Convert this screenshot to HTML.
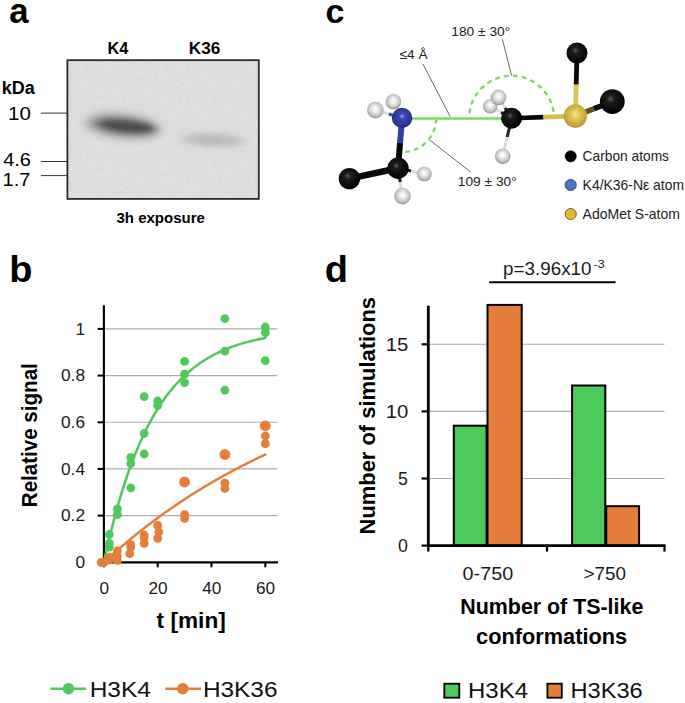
<!DOCTYPE html>
<html><head><meta charset="utf-8"><title>Figure</title>
<style>
html,body{margin:0;padding:0;background:#fff;}
body{width:685px;height:703px;overflow:hidden;}
svg{display:block;font-family:"Liberation Sans",sans-serif;}
.b{font-weight:bold;}
</style></head><body>
<svg width="685" height="703" viewBox="0 0 685 703">
<defs>
<filter id="bl1" x="-50%" y="-100%" width="200%" height="300%"><feGaussianBlur stdDeviation="6 4.2"/></filter>
<filter id="bl2" x="-50%" y="-100%" width="200%" height="300%"><feGaussianBlur stdDeviation="4.5 2.8"/></filter>
<filter id="bl3" x="-50%" y="-100%" width="200%" height="300%"><feGaussianBlur stdDeviation="6 3"/></filter>
<radialGradient id="gC" cx="0.45" cy="0.4" r="0.6" fx="0.42" fy="0.38">
<stop offset="0" stop-color="#5a5a5a"/><stop offset="0.25" stop-color="#1c1c1c"/><stop offset="1" stop-color="#000"/></radialGradient>
<radialGradient id="gN" cx="0.5" cy="0.45" r="0.6" fx="0.5" fy="0.42">
<stop offset="0" stop-color="#97a4ee"/><stop offset="0.22" stop-color="#3a4ab0"/><stop offset="0.75" stop-color="#27358f"/><stop offset="1" stop-color="#18225f"/></radialGradient>
<radialGradient id="gH" cx="0.5" cy="0.45" r="0.6" fx="0.5" fy="0.42">
<stop offset="0" stop-color="#ffffff"/><stop offset="0.3" stop-color="#ededed"/><stop offset="0.68" stop-color="#c2c2c2"/><stop offset="1" stop-color="#838383"/></radialGradient>
<radialGradient id="gS" cx="0.5" cy="0.45" r="0.6" fx="0.5" fy="0.42">
<stop offset="0" stop-color="#f5ea9a"/><stop offset="0.35" stop-color="#dcc550"/><stop offset="0.8" stop-color="#c0a53a"/><stop offset="1" stop-color="#8f7a22"/></radialGradient>
<filter id="noise" x="0" y="0" width="100%" height="100%"><feTurbulence type="fractalNoise" baseFrequency="0.22" numOctaves="2" seed="7" result="t"/><feColorMatrix type="matrix" values="0 0 0 0 0.45  0 0 0 0 0.45  0 0 0 0 0.45  0.9 0 0 0 -0.33"/></filter>
<clipPath id="gelclip"><rect x="67.4" y="60.2" width="191.4" height="138.7"/></clipPath>
</defs>
<rect width="685" height="703" fill="#fff"/>

<text class="b" x="9.3" y="22.6" font-size="34.7">a</text>
<text class="b" x="9.2" y="281.6" font-size="36.8" textLength="23.2" lengthAdjust="spacingAndGlyphs">b</text>
<text class="b" x="325.5" y="22.7" font-size="34">c</text>
<text class="b" x="324.8" y="282.3" font-size="36.8" textLength="23.2" lengthAdjust="spacingAndGlyphs">d</text>
<g id="panelA">
<rect x="67.4" y="60.2" width="191.4" height="138.7" fill="#dfdfdf"/>
<rect x="67.4" y="60.2" width="191.4" height="138.7" filter="url(#noise)" opacity="0.28"/>
<g clip-path="url(#gelclip)">
<ellipse cx="123" cy="126" rx="36" ry="11" fill="#303030" opacity="0.5" filter="url(#bl1)" transform="rotate(6 123 126)"/>
<ellipse cx="127" cy="126.5" rx="28" ry="6" fill="#1c1c1c" opacity="0.55" filter="url(#bl2)" transform="rotate(6 127 126.5)"/>
<ellipse cx="213" cy="140" rx="31" ry="6.5" fill="#555" opacity="0.25" filter="url(#bl3)" transform="rotate(3 213 140)"/>
</g>
<rect x="67.4" y="60.2" width="191.4" height="138.7" fill="none" stroke="#2a2a2a" stroke-width="1.8"/>
<text class="b" x="107.5" y="54.2" font-size="16.5" textLength="20.8" lengthAdjust="spacingAndGlyphs">K4</text>
<text class="b" x="188.8" y="54.2" font-size="16.5" textLength="31.5" lengthAdjust="spacingAndGlyphs">K36</text>
<text class="b" x="1.8" y="94.4" font-size="17.5" textLength="33" lengthAdjust="spacingAndGlyphs">kDa</text>
<text x="8.0" y="120.2" font-size="17.8" textLength="22.8" lengthAdjust="spacingAndGlyphs">10</text>
<text x="3.2" y="166" font-size="17.8" textLength="27.8" lengthAdjust="spacingAndGlyphs">4.6</text>
<text x="2.6" y="185.6" font-size="17.8" textLength="27.8" lengthAdjust="spacingAndGlyphs">1.7</text>
<line x1="40.9" y1="113.1" x2="67.4" y2="113.1" stroke="#333" stroke-width="1"/>
<line x1="40.9" y1="161.5" x2="67.4" y2="161.5" stroke="#333" stroke-width="1"/>
<line x1="40.9" y1="175.6" x2="67.4" y2="175.6" stroke="#333" stroke-width="1"/>
<text class="b" x="116.5" y="223.2" font-size="15">3h exposure</text>
</g>
<g id="panelC">
<g stroke="#444" stroke-width="0.8" fill="none">
<line x1="422.9" y1="64" x2="450.2" y2="116.6"/>
<line x1="429.5" y1="139.9" x2="470.7" y2="172"/>
<line x1="502.4" y1="39.2" x2="511.6" y2="75.8"/>
</g>
<path d="M436.3 119.7 A34.2 34.2 0 0 1 400.9 152.1" fill="none" stroke="#7fd85a" stroke-width="2.4" stroke-dasharray="2.8 6.2" stroke-linecap="round"/>
<path d="M469.6 112.3 A42.4 42.4 0 0 1 553.6 112.3" fill="none" stroke="#7fd85a" stroke-width="2.4" stroke-dasharray="2.8 6.2" stroke-linecap="round"/>
<line x1="408" y1="118.5" x2="503" y2="118.5" stroke="#7fd85a" stroke-width="2.6"/>
<line x1="402.1" y1="117.9" x2="388.70000000000005" y2="114.0" stroke="#3a4bb5" stroke-width="3"/>
<line x1="388.70000000000005" y1="114.0" x2="375.3" y2="110.1" stroke="#ddd" stroke-width="3"/>
<line x1="402.1" y1="117.9" x2="397.75" y2="109.85" stroke="#3a4bb5" stroke-width="3"/>
<line x1="397.75" y1="109.85" x2="393.4" y2="101.8" stroke="#ddd" stroke-width="3"/>
<line x1="398" y1="168.2" x2="411.15" y2="171.05" stroke="#222" stroke-width="3"/>
<line x1="411.15" y1="171.05" x2="424.3" y2="173.9" stroke="#ddd" stroke-width="3"/>
<line x1="398" y1="168.2" x2="400.25" y2="182.14999999999998" stroke="#222" stroke-width="3"/>
<line x1="400.25" y1="182.14999999999998" x2="402.5" y2="196.1" stroke="#ddd" stroke-width="3"/>
<line x1="511.6" y1="118.2" x2="505.05" y2="107.80000000000001" stroke="#222" stroke-width="3"/>
<line x1="505.05" y1="107.80000000000001" x2="498.5" y2="97.4" stroke="#ddd" stroke-width="3"/>
<line x1="511.6" y1="118.2" x2="500.9" y2="112.25" stroke="#222" stroke-width="3"/>
<line x1="500.9" y1="112.25" x2="490.2" y2="106.3" stroke="#ddd" stroke-width="3"/>
<line x1="511.6" y1="118.2" x2="507.15" y2="137.2" stroke="#222" stroke-width="3"/>
<line x1="507.15" y1="137.2" x2="502.7" y2="156.2" stroke="#ddd" stroke-width="3"/>
<line x1="402.1" y1="117.9" x2="400.05" y2="143.05" stroke="#2f3fa5" stroke-width="6"/>
<line x1="400.05" y1="143.05" x2="398" y2="168.2" stroke="#0a0a0a" stroke-width="6"/>
<line x1="398" y1="168.2" x2="349.4" y2="178.6" stroke="#0a0a0a" stroke-width="6.5"/>
<line x1="511.6" y1="118.2" x2="543.5" y2="117.1" stroke="#0a0a0a" stroke-width="4.6"/>
<line x1="543.5" y1="117.1" x2="575.4" y2="116" stroke="#d6bf4a" stroke-width="4.6"/>
<line x1="575.4" y1="116" x2="576.2" y2="84.5" stroke="#dcc750" stroke-width="4.8"/>
<line x1="576.2" y1="84.5" x2="577" y2="53" stroke="#0a0a0a" stroke-width="4.8"/>
<line x1="575.4" y1="116" x2="593.8499999999999" y2="108.8" stroke="#5b5020" stroke-width="5.5"/>
<line x1="593.8499999999999" y1="108.8" x2="612.3" y2="101.6" stroke="#0a0a0a" stroke-width="5.5"/>
<circle cx="490.2" cy="106.3" r="7.2" fill="url(#gH)"/>
<circle cx="498.5" cy="97.4" r="7.8" fill="url(#gH)"/>
<circle cx="375.3" cy="110.1" r="8.3" fill="url(#gH)"/>
<circle cx="393.4" cy="101.8" r="7.8" fill="url(#gH)"/>
<circle cx="402.1" cy="117.9" r="10.2" fill="url(#gN)"/>
<circle cx="349.4" cy="178.6" r="10.7" fill="url(#gC)"/>
<circle cx="424.3" cy="173.9" r="7.4" fill="url(#gH)"/>
<circle cx="402.5" cy="196.1" r="8.3" fill="url(#gH)"/>
<circle cx="398" cy="168.2" r="10.7" fill="url(#gC)"/>
<circle cx="502.7" cy="156.2" r="7.8" fill="url(#gH)"/>
<circle cx="511.6" cy="118.2" r="10.5" fill="url(#gC)"/>
<circle cx="577" cy="53" r="10.5" fill="url(#gC)"/>
<circle cx="612.3" cy="101.6" r="12.4" fill="url(#gC)"/>
<circle cx="575.4" cy="116" r="11.7" fill="url(#gS)"/>
<g fill="#222">
<text x="399.5" y="59.2" font-size="13.2" textLength="28" lengthAdjust="spacingAndGlyphs">≤4 Å</text>
<text x="451.3" y="35.5" font-size="13.6" textLength="59" lengthAdjust="spacingAndGlyphs">180 ± 30°</text>
<text x="457.8" y="186.2" font-size="13.6" textLength="59" lengthAdjust="spacingAndGlyphs">109 ± 30°</text>
</g>
<circle cx="570.7" cy="156.3" r="5.6" fill="#000" stroke="#000" stroke-width="0.6"/>
<circle cx="570.7" cy="185" r="5.6" fill="#4a78c8" stroke="#223" stroke-width="0.7"/>
<circle cx="570.7" cy="214" r="5.6" fill="#e6b92c" stroke="#332" stroke-width="0.7"/>
<g fill="#222" font-size="14.5">
<text x="582.6" y="161.2" textLength="86.4" lengthAdjust="spacingAndGlyphs">Carbon atoms</text>
<text x="582.6" y="190" textLength="101.5" lengthAdjust="spacingAndGlyphs">K4/K36-Nε atom</text>
<text x="582.6" y="219" textLength="97.4" lengthAdjust="spacingAndGlyphs">AdoMet S-atom</text>
</g>
</g>
<g id="panelB">
<line x1="103.9" y1="515.6" x2="277.3" y2="515.6" stroke="#adadad" stroke-width="1.1"/>
<line x1="103.9" y1="468.9" x2="277.3" y2="468.9" stroke="#adadad" stroke-width="1.1"/>
<line x1="103.9" y1="422.3" x2="277.3" y2="422.3" stroke="#adadad" stroke-width="1.1"/>
<line x1="103.9" y1="375.6" x2="277.3" y2="375.6" stroke="#adadad" stroke-width="1.1"/>
<line x1="103.9" y1="328.9" x2="277.3" y2="328.9" stroke="#adadad" stroke-width="1.1"/>
<line x1="103.9" y1="305.2" x2="103.9" y2="563.4" stroke="#000" stroke-width="2.1"/>
<line x1="102.9" y1="562.3" x2="278" y2="562.3" stroke="#000" stroke-width="2.2"/>
<line x1="97.6" y1="562.3" x2="103.9" y2="562.3" stroke="#000" stroke-width="2"/>
<line x1="97.6" y1="515.6" x2="103.9" y2="515.6" stroke="#000" stroke-width="2"/>
<line x1="97.6" y1="468.9" x2="103.9" y2="468.9" stroke="#000" stroke-width="2"/>
<line x1="97.6" y1="422.3" x2="103.9" y2="422.3" stroke="#000" stroke-width="2"/>
<line x1="97.6" y1="375.6" x2="103.9" y2="375.6" stroke="#000" stroke-width="2"/>
<line x1="97.6" y1="328.9" x2="103.9" y2="328.9" stroke="#000" stroke-width="2"/>
<line x1="103.9" y1="562.3" x2="103.9" y2="567.3" stroke="#000" stroke-width="2"/>
<line x1="157.7" y1="562.3" x2="157.7" y2="567.3" stroke="#000" stroke-width="2"/>
<line x1="211.5" y1="562.3" x2="211.5" y2="567.3" stroke="#000" stroke-width="2"/>
<line x1="265.3" y1="562.3" x2="265.3" y2="567.3" stroke="#000" stroke-width="2"/>
<polyline points="103.9,562.3 105.2,556.1 106.6,550.1 107.9,544.3 109.3,538.6 110.6,533.1 112.0,527.7 113.3,522.4 114.7,517.3 116.0,512.3 117.4,507.5 118.7,502.8 120.0,498.2 121.4,493.7 122.7,489.4 124.1,485.1 125.4,481.0 126.8,477.0 128.1,473.1 129.5,469.2 130.8,465.5 132.1,461.9 133.5,458.4 134.8,455.0 136.2,451.7 137.5,448.4 138.9,445.2 140.2,442.2 141.6,439.2 142.9,436.3 144.2,433.4 145.6,430.6 146.9,428.0 148.3,425.3 149.6,422.8 151.0,420.3 152.3,417.9 153.7,415.5 155.0,413.2 156.4,411.0 157.7,408.8 159.0,406.7 160.4,404.6 161.7,402.6 163.1,400.7 164.4,398.8 165.8,396.9 167.1,395.1 168.5,393.4 169.8,391.6 171.2,390.0 172.5,388.4 173.8,386.8 175.2,385.2 176.5,383.7 177.9,382.3 179.2,380.9 180.6,379.5 181.9,378.1 183.3,376.8 184.6,375.6 185.9,374.3 187.3,373.1 188.6,371.9 190.0,370.8 191.3,369.7 192.7,368.6 194.0,367.5 195.4,366.5 196.7,365.5 198.1,364.5 199.4,363.6 200.7,362.6 202.1,361.7 203.4,360.9 204.8,360.0 206.1,359.2 207.5,358.4 208.8,357.6 210.2,356.8 211.5,356.1 212.8,355.3 214.2,354.6 215.5,353.9 216.9,353.3 218.2,352.6 219.6,352.0 220.9,351.3 222.3,350.7 223.6,350.2 224.9,349.6 226.3,349.0 227.6,348.5 229.0,348.0 230.3,347.4 231.7,346.9 233.0,346.5 234.4,346.0 235.7,345.5 237.1,345.1 238.4,344.6 239.7,344.2 241.1,343.8 242.4,343.4 243.8,343.0 245.1,342.6 246.5,342.2 247.8,341.9 249.2,341.5 250.5,341.2 251.8,340.8 253.2,340.5 254.5,340.2 255.9,339.9 257.2,339.6 258.6,339.3 259.9,339.0 261.3,338.7 262.6,338.4 264.0,338.2 265.3,337.9" fill="none" stroke="#4ec95c" stroke-width="2.5" stroke-linejoin="round" stroke-linecap="round"/>
<circle cx="265.3" cy="327.0" r="4.4" fill="#4ec95c"/>
<circle cx="265.3" cy="332.6" r="4.4" fill="#4ec95c"/>
<circle cx="265.3" cy="360.6" r="4.4" fill="#4ec95c"/>
<circle cx="224.9" cy="318.6" r="4.4" fill="#4ec95c"/>
<circle cx="224.9" cy="351.1" r="4.4" fill="#4ec95c"/>
<circle cx="224.9" cy="390.1" r="4.4" fill="#4ec95c"/>
<circle cx="184.6" cy="361.3" r="4.4" fill="#4ec95c"/>
<circle cx="184.6" cy="374.2" r="4.4" fill="#4ec95c"/>
<circle cx="184.6" cy="382.6" r="4.4" fill="#4ec95c"/>
<circle cx="157.7" cy="401.0" r="4.4" fill="#4ec95c"/>
<circle cx="157.7" cy="405.5" r="4.4" fill="#4ec95c"/>
<circle cx="144.2" cy="396.6" r="4.4" fill="#4ec95c"/>
<circle cx="144.2" cy="433.5" r="4.4" fill="#4ec95c"/>
<circle cx="144.2" cy="454.0" r="4.4" fill="#4ec95c"/>
<circle cx="130.8" cy="457.3" r="4.4" fill="#4ec95c"/>
<circle cx="130.8" cy="463.6" r="4.4" fill="#4ec95c"/>
<circle cx="130.8" cy="487.8" r="4.4" fill="#4ec95c"/>
<circle cx="117.4" cy="508.9" r="4.4" fill="#4ec95c"/>
<circle cx="117.4" cy="514.7" r="4.4" fill="#4ec95c"/>
<circle cx="109.3" cy="534.5" r="4.4" fill="#4ec95c"/>
<circle cx="109.3" cy="543.4" r="4.4" fill="#4ec95c"/>
<circle cx="109.3" cy="547.1" r="4.4" fill="#4ec95c"/>
<circle cx="103.9" cy="562.3" r="4.4" fill="#4ec95c"/>
<polyline points="103.9,562.3 105.2,561.1 106.6,559.8 107.9,558.6 109.3,557.4 110.6,556.2 112.0,555.0 113.3,553.8 114.7,552.6 116.0,551.4 117.4,550.3 118.7,549.1 120.0,547.9 121.4,546.8 122.7,545.6 124.1,544.5 125.4,543.3 126.8,542.2 128.1,541.1 129.5,540.0 130.8,538.9 132.1,537.8 133.5,536.7 134.8,535.6 136.2,534.5 137.5,533.4 138.9,532.3 140.2,531.3 141.6,530.2 142.9,529.2 144.2,528.1 145.6,527.1 146.9,526.0 148.3,525.0 149.6,524.0 151.0,523.0 152.3,522.0 153.7,520.9 155.0,519.9 156.4,519.0 157.7,518.0 159.0,517.0 160.4,516.0 161.7,515.0 163.1,514.1 164.4,513.1 165.8,512.1 167.1,511.2 168.5,510.2 169.8,509.3 171.2,508.4 172.5,507.4 173.8,506.5 175.2,505.6 176.5,504.7 177.9,503.8 179.2,502.9 180.6,502.0 181.9,501.1 183.3,500.2 184.6,499.3 185.9,498.4 187.3,497.5 188.6,496.7 190.0,495.8 191.3,495.0 192.7,494.1 194.0,493.2 195.4,492.4 196.7,491.6 198.1,490.7 199.4,489.9 200.7,489.1 202.1,488.3 203.4,487.4 204.8,486.6 206.1,485.8 207.5,485.0 208.8,484.2 210.2,483.4 211.5,482.6 212.8,481.9 214.2,481.1 215.5,480.3 216.9,479.5 218.2,478.8 219.6,478.0 220.9,477.2 222.3,476.5 223.6,475.7 224.9,475.0 226.3,474.3 227.6,473.5 229.0,472.8 230.3,472.1 231.7,471.3 233.0,470.6 234.4,469.9 235.7,469.2 237.1,468.5 238.4,467.8 239.7,467.1 241.1,466.4 242.4,465.7 243.8,465.0 245.1,464.3 246.5,463.6 247.8,463.0 249.2,462.3 250.5,461.6 251.8,460.9 253.2,460.3 254.5,459.6 255.9,459.0 257.2,458.3 258.6,457.7 259.9,457.0 261.3,456.4 262.6,455.8 264.0,455.1 265.3,454.5" fill="none" stroke="#e57e3b" stroke-width="2.5" stroke-linejoin="round" stroke-linecap="round"/>
<circle cx="265.3" cy="425.8" r="5.4" fill="#e57e3b"/>
<circle cx="265.3" cy="436.0" r="4.4" fill="#e57e3b"/>
<circle cx="265.3" cy="443.7" r="4.4" fill="#e57e3b"/>
<circle cx="224.9" cy="454.5" r="5.4" fill="#e57e3b"/>
<circle cx="224.9" cy="483.2" r="4.4" fill="#e57e3b"/>
<circle cx="224.9" cy="488.5" r="4.4" fill="#e57e3b"/>
<circle cx="184.6" cy="482.0" r="5.4" fill="#e57e3b"/>
<circle cx="184.6" cy="514.7" r="4.4" fill="#e57e3b"/>
<circle cx="184.6" cy="518.4" r="4.4" fill="#e57e3b"/>
<circle cx="157.7" cy="525.4" r="4.4" fill="#e57e3b"/>
<circle cx="158.8" cy="532.0" r="4.4" fill="#e57e3b"/>
<circle cx="157.7" cy="538.3" r="4.4" fill="#e57e3b"/>
<circle cx="144.2" cy="535.0" r="4.4" fill="#e57e3b"/>
<circle cx="144.2" cy="537.6" r="4.4" fill="#e57e3b"/>
<circle cx="144.2" cy="543.4" r="4.4" fill="#e57e3b"/>
<circle cx="130.8" cy="544.6" r="4.4" fill="#e57e3b"/>
<circle cx="130.8" cy="547.1" r="4.4" fill="#e57e3b"/>
<circle cx="129.7" cy="553.7" r="4.4" fill="#e57e3b"/>
<circle cx="117.4" cy="550.9" r="4.4" fill="#e57e3b"/>
<circle cx="117.4" cy="556.0" r="4.4" fill="#e57e3b"/>
<circle cx="117.4" cy="560.4" r="4.4" fill="#e57e3b"/>
<circle cx="109.3" cy="557.2" r="4.4" fill="#e57e3b"/>
<circle cx="109.3" cy="560.0" r="4.4" fill="#e57e3b"/>
<circle cx="103.9" cy="562.3" r="4.4" fill="#e57e3b"/>
<circle cx="101.2" cy="562.3" r="4.4" fill="#e57e3b"/>
<g font-size="17.3" fill="#1a1a1a" text-anchor="end">
<text x="85" y="568.1">0</text>
<text x="85" y="521.4">0.2</text>
<text x="85" y="474.7">0.4</text>
<text x="85" y="428.1">0.6</text>
<text x="85" y="381.4">0.8</text>
<text x="85" y="334.7">1</text>
</g>
<g font-size="17.2" fill="#1a1a1a" text-anchor="middle">
<text x="104.2" y="593.8">0</text>
<text x="158.0" y="593.8">20</text>
<text x="211.8" y="593.8">40</text>
<text x="265.6" y="593.8">60</text>
</g>
<text class="b" x="156.6" y="627.7" font-size="22" textLength="69.2" lengthAdjust="spacingAndGlyphs">t [min]</text>
<text class="b" transform="translate(37.2 507.2) rotate(-90)" font-size="22" textLength="144" lengthAdjust="spacingAndGlyphs">Relative signal</text>
<line x1="50.4" y1="688.7" x2="86" y2="688.7" stroke="#4ec95c" stroke-width="2.5"/><circle cx="68.5" cy="688.7" r="5.8" fill="#4ec95c"/>
<text x="89.7" y="696.7" font-size="22.8" fill="#111" textLength="61.2" lengthAdjust="spacingAndGlyphs">H3K4</text>
<line x1="165.3" y1="688.7" x2="201" y2="688.7" stroke="#e57e3b" stroke-width="2.5"/><circle cx="182.8" cy="688.7" r="5.8" fill="#e57e3b"/>
<text x="202.9" y="696.7" font-size="22.8" fill="#111" textLength="74.6" lengthAdjust="spacingAndGlyphs">H3K36</text>
</g>
<g id="panelD">
<line x1="428.3" y1="478.5" x2="664.6" y2="478.5" stroke="#adadad" stroke-width="1.1"/>
<line x1="428.3" y1="411.4" x2="664.6" y2="411.4" stroke="#adadad" stroke-width="1.1"/>
<line x1="428.3" y1="344.3" x2="664.6" y2="344.3" stroke="#adadad" stroke-width="1.1"/>
<rect x="453.8" y="425.7" width="32.8" height="119.9" fill="#4ec95c" stroke="#000" stroke-width="2"/>
<rect x="487.5" y="304.9" width="34.2" height="240.7" fill="#e57e3b" stroke="#000" stroke-width="2"/>
<rect x="572.1" y="385.5" width="33.2" height="160.1" fill="#4ec95c" stroke="#000" stroke-width="2"/>
<rect x="606.2" y="506.2" width="32.9" height="39.4" fill="#e57e3b" stroke="#000" stroke-width="2"/>
<line x1="428.3" y1="305.7" x2="428.3" y2="546.9" stroke="#000" stroke-width="2.8"/>
<line x1="427.3" y1="545.6" x2="665.6" y2="545.6" stroke="#000" stroke-width="2.8"/>
<line x1="421.6" y1="545.6" x2="428.3" y2="545.6" stroke="#000" stroke-width="2.2"/>
<line x1="421.6" y1="478.5" x2="428.3" y2="478.5" stroke="#000" stroke-width="2.2"/>
<line x1="421.6" y1="411.4" x2="428.3" y2="411.4" stroke="#000" stroke-width="2.2"/>
<line x1="421.6" y1="344.3" x2="428.3" y2="344.3" stroke="#000" stroke-width="2.2"/>
<line x1="428.3" y1="545.6" x2="428.3" y2="551.6" stroke="#000" stroke-width="2.2"/>
<line x1="547" y1="545.6" x2="547" y2="551.6" stroke="#000" stroke-width="2.2"/>
<line x1="664.5" y1="545.6" x2="664.5" y2="551.6" stroke="#000" stroke-width="2.2"/>
<g font-size="17.8" fill="#1a1a1a" text-anchor="end">
<text x="408" y="551.9">0</text>
<text x="408" y="484.8">5</text>
<text x="408.3" y="417.7" textLength="22.6" lengthAdjust="spacingAndGlyphs">10</text>
<text x="408.3" y="350.6" textLength="22.6" lengthAdjust="spacingAndGlyphs">15</text>
</g>
<g font-size="17.8" fill="#1a1a1a">
<text x="462.6" y="579.8" textLength="50.6" lengthAdjust="spacingAndGlyphs">0-750</text>
<text x="583.4" y="579.8" textLength="42.5" lengthAdjust="spacingAndGlyphs">&gt;750</text>
</g>
<text class="b" x="460.3" y="614" font-size="21.8" textLength="183" lengthAdjust="spacingAndGlyphs">Number of TS-like</text>
<text class="b" x="476.1" y="643.8" font-size="21.8" textLength="151" lengthAdjust="spacingAndGlyphs">conformations</text>
<text class="b" transform="translate(375 534.4) rotate(-90)" font-size="22" textLength="237.4" lengthAdjust="spacingAndGlyphs">Number of simulations</text>
<line x1="489.1" y1="282.3" x2="615.5" y2="282.3" stroke="#000" stroke-width="2"/>
<text x="503.1" y="274.6" font-size="17.6" fill="#1a1a1a" textLength="88.4" lengthAdjust="spacingAndGlyphs">p=3.96x10</text>
<text x="593.6" y="268.4" font-size="10.6" fill="#1a1a1a" textLength="11" lengthAdjust="spacingAndGlyphs">-3</text>
<rect x="444.3" y="683.7" width="15" height="14" fill="#4ec95c" stroke="#000" stroke-width="1.8"/>
<text x="468" y="698" font-size="21.6" fill="#111" textLength="60" lengthAdjust="spacingAndGlyphs">H3K4</text>
<rect x="547.4" y="683.7" width="14.4" height="14" fill="#e57e3b" stroke="#000" stroke-width="1.8"/>
<text x="570.4" y="698" font-size="21.6" fill="#111" textLength="72.4" lengthAdjust="spacingAndGlyphs">H3K36</text>
</g>
</svg></body></html>
